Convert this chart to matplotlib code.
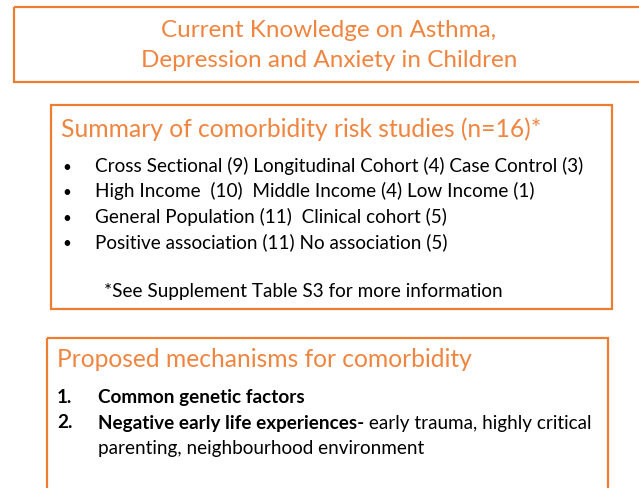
import matplotlib.pyplot as plt
from matplotlib.patches import Rectangle

plt.rcParams['font.family'] = ['Lato', 'DejaVu Sans']

orange = '#ED7D31'
text_orange = '#F08540'

title_lines = ['Current Knowledge on Asthma,', 'Depression and Anxiety in Children']
summary_heading = 'Summary of comorbidity risk studies (n=16)*'
summary_items = [
    'Cross Sectional (9) Longitudinal Cohort (4) Case Control (3)',
    'High Income  (10)  Middle Income (4) Low Income (1)',
    'General Population (11)  Clinical cohort (5)',
    'Positive association (11) No association (5)',
]
footnote = '*See Supplement Table S3 for more information'
mechanism_heading = 'Proposed mechanisms for comorbidity'
mechanism_bold = ['Common genetic factors', 'Negative early life experiences-']
mechanism_rest = ['', ' early trauma, highly critical\nparenting, neighbourhood environment']

body = 13.6
head = 17.7

fig = plt.figure(figsize=(6.39, 4.88), dpi=100)
ax = fig.add_axes([0, 0, 1, 1])
ax.set_xlim(0, 639)
ax.set_ylim(488, 0)
ax.axis('off')

# boxes (x, y, w, h in pixels)
for x, y, w, h in [(14, 7, 640, 75), (51, 105, 561, 204), (47, 338, 561, 160)]:
    ax.add_patch(Rectangle((x, y), w, h, fill=False, edgecolor=orange, lw=1.6, clip_on=True))

# title
for i, line in enumerate(title_lines):
    ax.text(329, 37 + i * 30, line, ha='center', va='baseline', fontsize=17.5, color=text_orange)

# summary box
ax.text(61, 137, summary_heading, ha='left', va='baseline', fontsize=head, color=text_orange)
for i, item in enumerate(summary_items):
    yy = 172 + i * 25.3
    ax.text(62, yy, '\u2022', ha='left', va='baseline', fontsize=11, color='black')
    ax.text(95, yy, item, ha='left', va='baseline', fontsize=body, color='black')
ax.text(104, 297, footnote, ha='left', va='baseline', fontsize=body, color='black')

# mechanisms box
ax.text(57, 367, mechanism_heading, ha='left', va='baseline', fontsize=head, color=text_orange)
for i, (b, r) in enumerate(zip(mechanism_bold, mechanism_rest)):
    yy = 403 + i * 25.5
    ax.text(57, yy, f'{i + 1}.', ha='left', va='baseline', fontsize=body, fontweight='bold', color='black')
    t = ax.text(98, yy, b, ha='left', va='baseline', fontsize=body, fontweight='bold', color='black')
    if r:
        first, second = r.split('\n')
        ax.annotate(first, xycoords=t, xy=(1, 0), va='bottom', ha='left',
                    fontsize=body, color='black')
        ax.text(98, yy + 25.5, second, ha='left', va='baseline', fontsize=body, color='black')

fig.savefig('out.png', dpi=100)
